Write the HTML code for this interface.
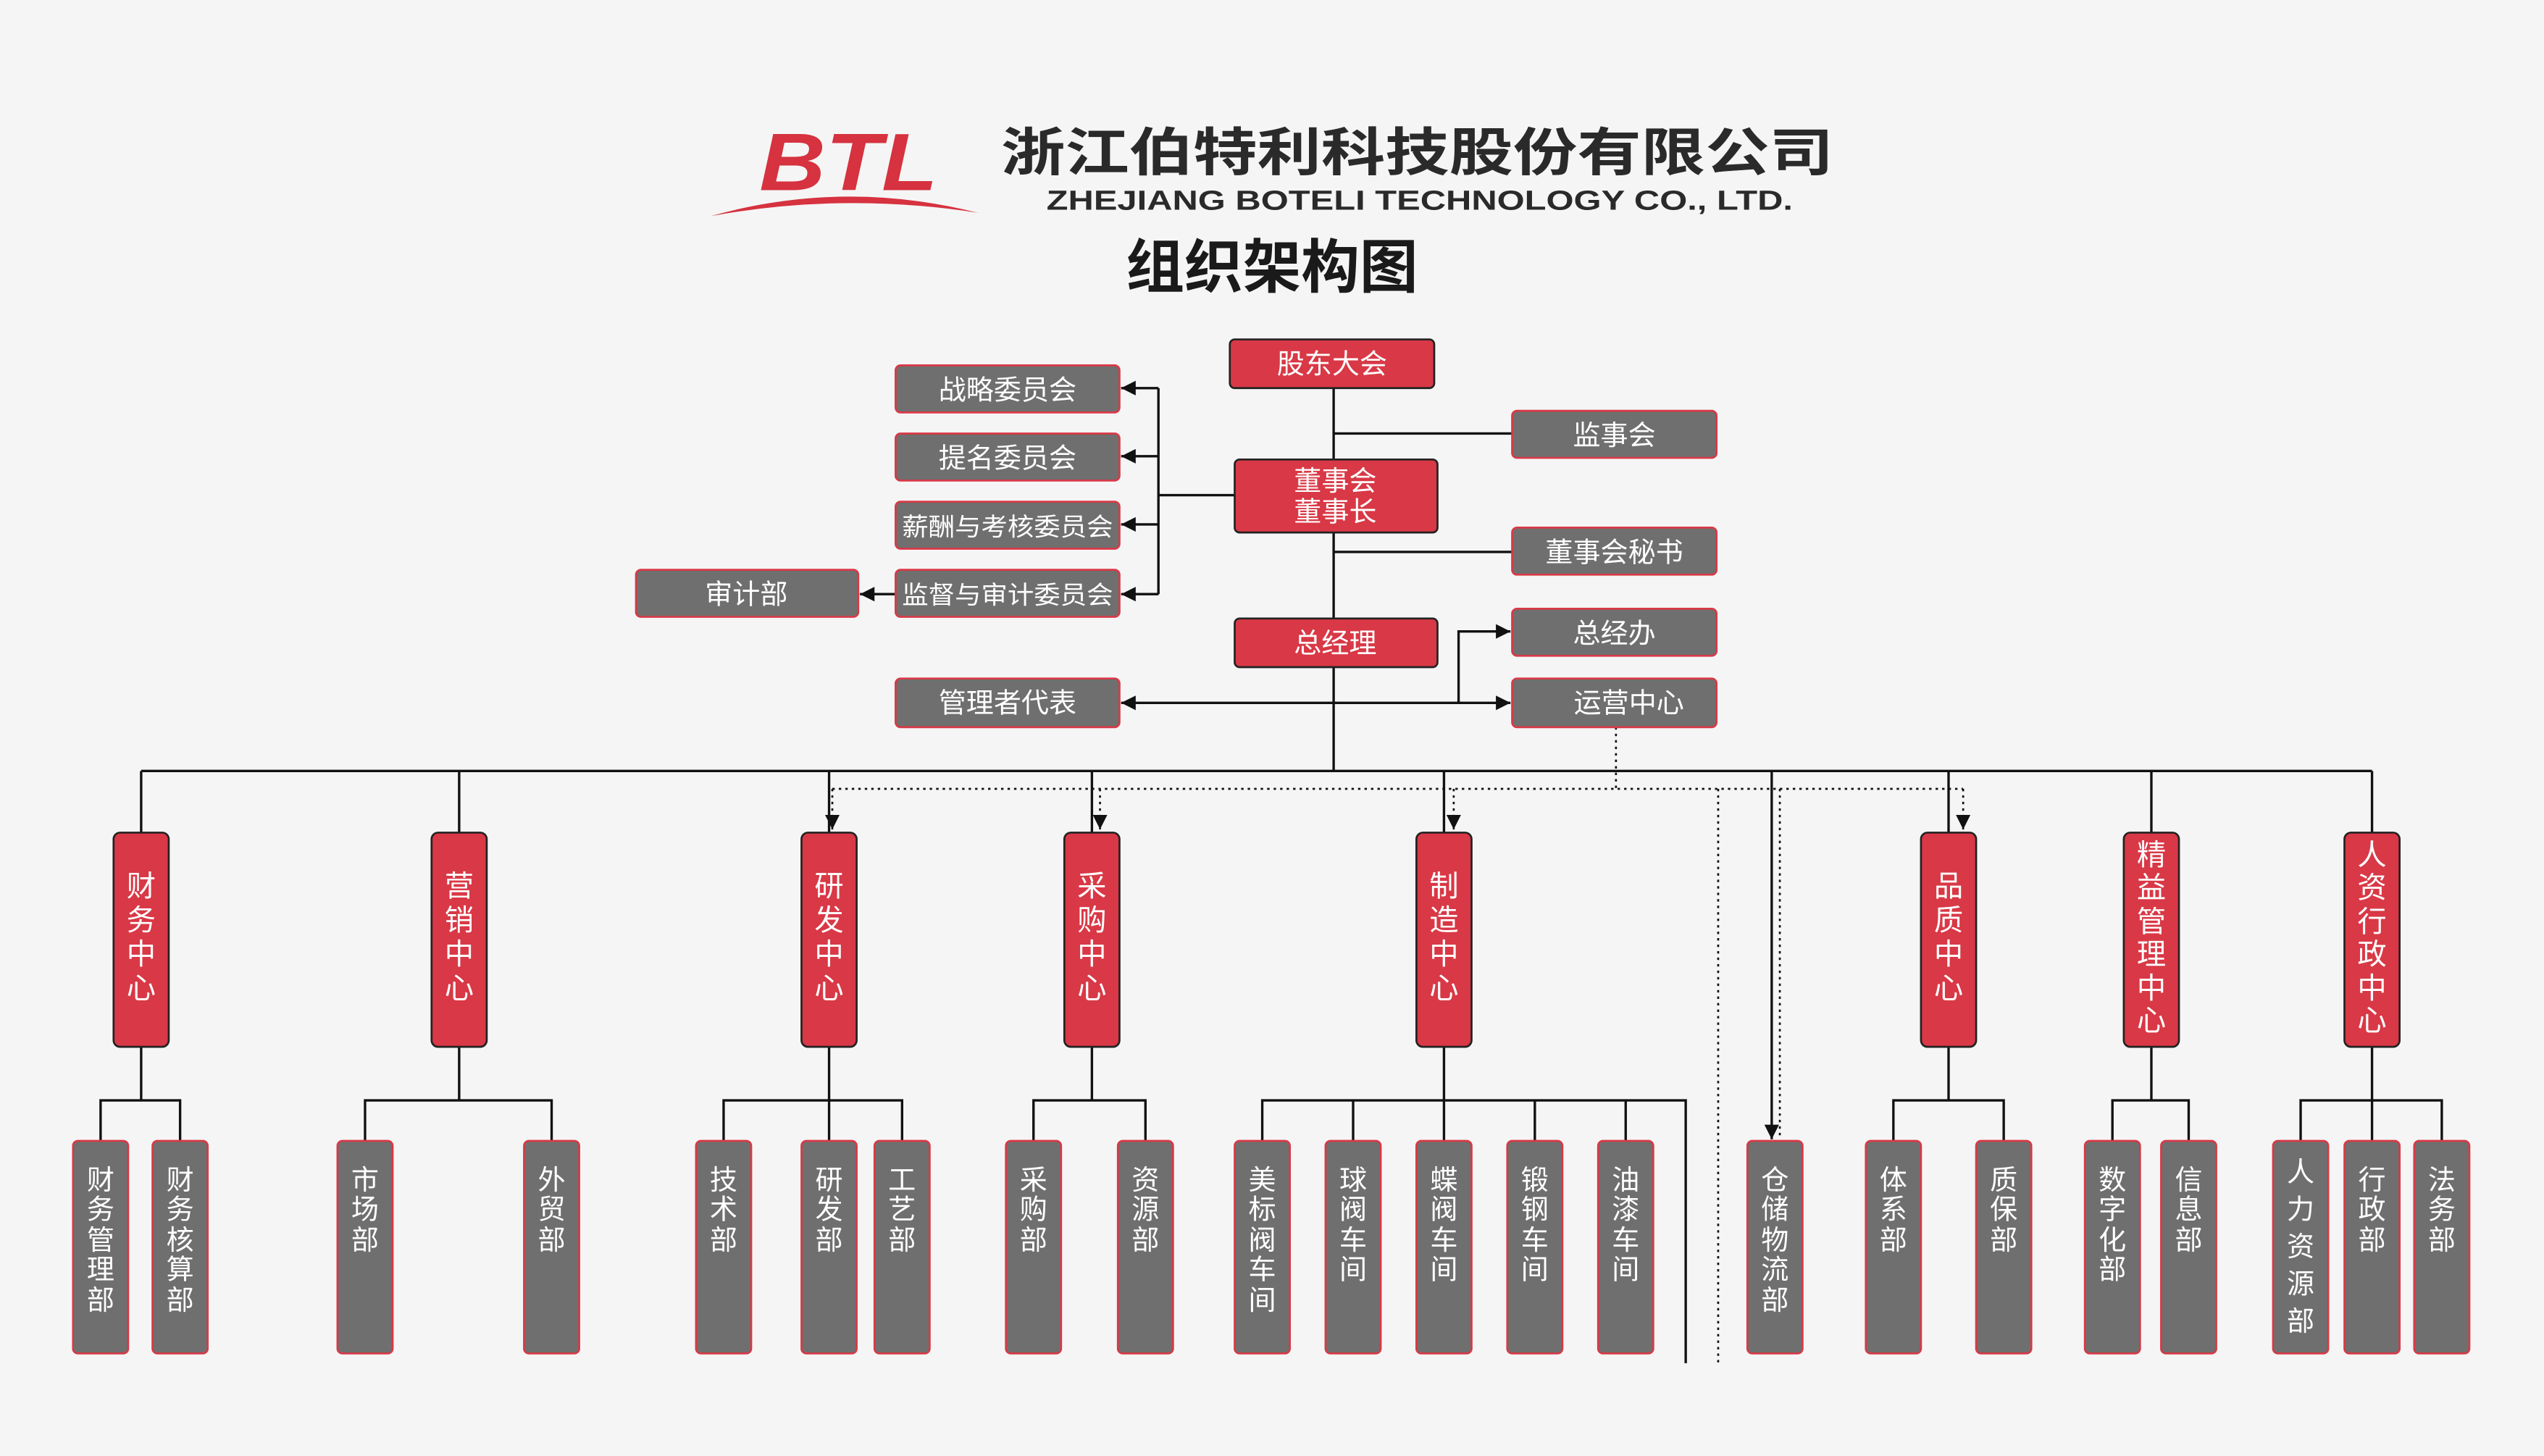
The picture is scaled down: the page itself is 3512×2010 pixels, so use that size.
<!DOCTYPE html>
<html><head><meta charset="utf-8"><style>
html,body{margin:0;padding:0;background:#f5f5f5;}
svg{display:block;}
text{font-family:"Liberation Sans","Noto Sans CJK SC",sans-serif;}
</style></head><body>
<svg width="3512" height="2010" viewBox="0 0 1568 897" xmlns="http://www.w3.org/2000/svg">
<defs>
<marker id="a" viewBox="0 0 10 10" refX="10" refY="5" markerWidth="9" markerHeight="9" markerUnits="userSpaceOnUse" orient="auto"><path d="M0,0 L10,5 L0,10 z" fill="#111"/></marker>
</defs>
<rect x="0" y="0" width="1568" height="897" fill="#f5f5f5"/>
<text x="468" y="117" font-size="50" font-weight="bold" font-style="italic" fill="#d6323f" textLength="110" lengthAdjust="spacingAndGlyphs">BTL</text>
<path d="M438,133 Q520,110 603,131 Q520,118 438,133 Z" fill="#d6323f"/>
<text x="617" y="105" font-size="32" font-weight="bold" fill="#2a2a2a" textLength="513" lengthAdjust="spacingAndGlyphs">浙江伯特利科技股份有限公司</text>
<text x="645" y="129" font-size="17" font-weight="bold" fill="#2a2a2a" textLength="460" lengthAdjust="spacingAndGlyphs">ZHEJIANG BOTELI TECHNOLOGY CO., LTD.</text>
<text x="784" y="177" font-size="36" font-weight="bold" fill="#1a1a1a" text-anchor="middle">组织架构图</text>

<g stroke="#111" stroke-width="1.5" fill="none">
<line x1="822" y1="239" x2="822" y2="475"/>
<line x1="822" y1="267" x2="932" y2="267"/>
<line x1="822" y1="340" x2="932" y2="340"/>
<line x1="761" y1="305" x2="714" y2="305"/>
<line x1="714" y1="239" x2="714" y2="366"/>
<line x1="714" y1="239" x2="691" y2="239" marker-end="url(#a)"/>
<line x1="714" y1="281" x2="691" y2="281" marker-end="url(#a)"/>
<line x1="714" y1="323" x2="691" y2="323" marker-end="url(#a)"/>
<line x1="714" y1="366" x2="691" y2="366" marker-end="url(#a)"/>
<line x1="552" y1="366" x2="530" y2="366" marker-end="url(#a)"/>
<line x1="822" y1="433" x2="691" y2="433" marker-end="url(#a)"/>
<line x1="822" y1="433" x2="931" y2="433" marker-end="url(#a)"/>
<polyline points="899,433 899,389 931,389" marker-end="url(#a)"/>
<line x1="87" y1="475" x2="1462" y2="475"/>
<line x1="87" y1="475" x2="87" y2="513"/>
<line x1="283" y1="475" x2="283" y2="513"/>
<line x1="511" y1="475" x2="511" y2="513"/>
<line x1="673" y1="475" x2="673" y2="513"/>
<line x1="890" y1="475" x2="890" y2="513"/>
<line x1="1201" y1="475" x2="1201" y2="513"/>
<line x1="1326" y1="475" x2="1326" y2="513"/>
<line x1="1462" y1="475" x2="1462" y2="513"/>
<line x1="1092" y1="475" x2="1092" y2="702" marker-end="url(#a)"/>
<line x1="87" y1="645" x2="87" y2="678"/><polyline points="62,703 62,678 111,678 111,703"/>
<line x1="283" y1="645" x2="283" y2="678"/><polyline points="225,703 225,678 340,678 340,703"/>
<line x1="511" y1="645" x2="511" y2="703"/><polyline points="446,703 446,678 556,678 556,703"/>
<line x1="673" y1="645" x2="673" y2="678"/><polyline points="637,703 637,678 706,678 706,703"/>
<line x1="890" y1="645" x2="890" y2="703"/><polyline points="778,703 778,678 1039,678 1039,840"/>
<line x1="834" y1="678" x2="834" y2="703"/><line x1="946" y1="678" x2="946" y2="703"/><line x1="1002" y1="678" x2="1002" y2="703"/>
<line x1="1201" y1="645" x2="1201" y2="678"/><polyline points="1167,703 1167,678 1235,678 1235,703"/>
<line x1="1326" y1="645" x2="1326" y2="678"/><polyline points="1302,703 1302,678 1349,678 1349,703"/>
<line x1="1462" y1="645" x2="1462" y2="703"/><polyline points="1418,703 1418,678 1505,678 1505,703"/>
</g>
<g stroke="#111" stroke-width="1.2" fill="none" stroke-dasharray="1.5,2.5">
<line x1="996" y1="448" x2="996" y2="486"/>
<line x1="513" y1="486" x2="1210" y2="486"/>
<line x1="513" y1="486" x2="513" y2="511" marker-end="url(#a)"/>
<line x1="678" y1="486" x2="678" y2="511" marker-end="url(#a)"/>
<line x1="896" y1="486" x2="896" y2="511" marker-end="url(#a)"/>
<line x1="1210" y1="486" x2="1210" y2="511" marker-end="url(#a)"/>
<line x1="1059" y1="486" x2="1059" y2="840"/>
<line x1="1097" y1="486" x2="1097" y2="700"/>
</g>

<g stroke="#222" stroke-width="1.2">
<rect x="758" y="209" width="126" height="30" rx="3" fill="#d93846"/>
<rect x="761" y="283" width="125" height="45" rx="3" fill="#d93846"/>
<rect x="761" y="381" width="125" height="30" rx="3" fill="#d93846"/>
</g>
<g stroke="#d93846" stroke-width="1.2" fill="#6f6f6f">
<rect x="552" y="225" width="138" height="29" rx="3"/>
<rect x="552" y="267" width="138" height="29" rx="3"/>
<rect x="552" y="309" width="138" height="29" rx="3"/>
<rect x="552" y="351" width="138" height="29" rx="3"/>
<rect x="392" y="351" width="137" height="29" rx="3"/>
<rect x="932" y="253" width="126" height="29" rx="3"/>
<rect x="932" y="325" width="126" height="29" rx="3"/>
<rect x="932" y="375" width="126" height="29" rx="3"/>
<rect x="932" y="418" width="126" height="30" rx="3"/>
<rect x="552" y="418" width="138" height="30" rx="3"/>
</g>
<g fill="#fff" font-size="17" text-anchor="middle">
<text x="821" y="230">股东大会</text>
<text x="823" y="302">董事会</text>
<text x="823" y="321">董事长</text>
<text x="823" y="402">总经理</text>
<text x="621" y="246">战略委员会</text>
<text x="621" y="288">提名委员会</text>
<text x="621" y="330" font-size="15.5" textLength="130" lengthAdjust="spacingAndGlyphs">薪酬与考核委员会</text>
<text x="621" y="372" font-size="15.5" textLength="130" lengthAdjust="spacingAndGlyphs">监督与审计委员会</text>
<text x="460" y="372">审计部</text>
<text x="995" y="274">监事会</text>
<text x="995" y="346">董事会秘书</text>
<text x="995" y="396">总经办</text>
<text x="1004" y="439">运营中心</text>
<text x="621" y="439">管理者代表</text>
</g>

<g stroke="#222" stroke-width="1.2" fill="#d93846">
<rect x="70" y="513" width="34" height="132" rx="4"/>
<rect x="266" y="513" width="34" height="132" rx="4"/>
<rect x="494" y="513" width="34" height="132" rx="4"/>
<rect x="656" y="513" width="34" height="132" rx="4"/>
<rect x="873" y="513" width="34" height="132" rx="4"/>
<rect x="1184" y="513" width="34" height="132" rx="4"/>
<rect x="1309" y="513" width="34" height="132" rx="4"/>
<rect x="1445" y="513" width="34" height="132" rx="4"/>
</g>
<g fill="#fff" font-size="18" text-anchor="middle">
<text x="87" y="552">财</text><text x="87" y="573">务</text><text x="87" y="594">中</text><text x="87" y="615">心</text>
<text x="283" y="552">营</text><text x="283" y="573">销</text><text x="283" y="594">中</text><text x="283" y="615">心</text>
<text x="511" y="552">研</text><text x="511" y="573">发</text><text x="511" y="594">中</text><text x="511" y="615">心</text>
<text x="673" y="552">采</text><text x="673" y="573">购</text><text x="673" y="594">中</text><text x="673" y="615">心</text>
<text x="890" y="552">制</text><text x="890" y="573">造</text><text x="890" y="594">中</text><text x="890" y="615">心</text>
<text x="1201" y="552">品</text><text x="1201" y="573">质</text><text x="1201" y="594">中</text><text x="1201" y="615">心</text>
<text x="1326" y="533">精</text><text x="1326" y="553">益</text><text x="1326" y="574">管</text><text x="1326" y="594">理</text><text x="1326" y="615">中</text><text x="1326" y="635">心</text>
<text x="1462" y="533">人</text><text x="1462" y="553">资</text><text x="1462" y="574">行</text><text x="1462" y="594">政</text><text x="1462" y="615">中</text><text x="1462" y="635">心</text>
</g>

<g stroke="#d93846" stroke-width="1.2" fill="#6f6f6f">
<rect x="45" y="703" width="34" height="131" rx="3"/>
<rect x="94" y="703" width="34" height="131" rx="3"/>
<rect x="208" y="703" width="34" height="131" rx="3"/>
<rect x="323" y="703" width="34" height="131" rx="3"/>
<rect x="429" y="703" width="34" height="131" rx="3"/>
<rect x="494" y="703" width="34" height="131" rx="3"/>
<rect x="539" y="703" width="34" height="131" rx="3"/>
<rect x="620" y="703" width="34" height="131" rx="3"/>
<rect x="689" y="703" width="34" height="131" rx="3"/>
<rect x="761" y="703" width="34" height="131" rx="3"/>
<rect x="817" y="703" width="34" height="131" rx="3"/>
<rect x="873" y="703" width="34" height="131" rx="3"/>
<rect x="929" y="703" width="34" height="131" rx="3"/>
<rect x="985" y="703" width="34" height="131" rx="3"/>
<rect x="1077" y="703" width="34" height="131" rx="3"/>
<rect x="1150" y="703" width="34" height="131" rx="3"/>
<rect x="1218" y="703" width="34" height="131" rx="3"/>
<rect x="1285" y="703" width="34" height="131" rx="3"/>
<rect x="1332" y="703" width="34" height="131" rx="3"/>
<rect x="1401" y="703" width="34" height="131" rx="3"/>
<rect x="1445" y="703" width="34" height="131" rx="3"/>
<rect x="1488" y="703" width="34" height="131" rx="3"/>
</g>
<g fill="#fff" font-size="17" text-anchor="middle">
<text x="62" y="733">财</text><text x="62" y="751">务</text><text x="62" y="770">管</text><text x="62" y="788">理</text><text x="62" y="807">部</text>
<text x="111" y="733">财</text><text x="111" y="751">务</text><text x="111" y="770">核</text><text x="111" y="788">算</text><text x="111" y="807">部</text>
<text x="225" y="733">市</text><text x="225" y="751">场</text><text x="225" y="770">部</text>
<text x="340" y="733">外</text><text x="340" y="751">贸</text><text x="340" y="770">部</text>
<text x="446" y="733">技</text><text x="446" y="751">术</text><text x="446" y="770">部</text>
<text x="511" y="733">研</text><text x="511" y="751">发</text><text x="511" y="770">部</text>
<text x="556" y="733">工</text><text x="556" y="751">艺</text><text x="556" y="770">部</text>
<text x="637" y="733">采</text><text x="637" y="751">购</text><text x="637" y="770">部</text>
<text x="706" y="733">资</text><text x="706" y="751">源</text><text x="706" y="770">部</text>
<text x="778" y="733">美</text><text x="778" y="751">标</text><text x="778" y="770">阀</text><text x="778" y="788">车</text><text x="778" y="807">间</text>
<text x="834" y="733">球</text><text x="834" y="751">阀</text><text x="834" y="770">车</text><text x="834" y="788">间</text>
<text x="890" y="733">蝶</text><text x="890" y="751">阀</text><text x="890" y="770">车</text><text x="890" y="788">间</text>
<text x="946" y="733">锻</text><text x="946" y="751">钢</text><text x="946" y="770">车</text><text x="946" y="788">间</text>
<text x="1002" y="733">油</text><text x="1002" y="751">漆</text><text x="1002" y="770">车</text><text x="1002" y="788">间</text>
<text x="1094" y="733">仓</text><text x="1094" y="751">储</text><text x="1094" y="770">物</text><text x="1094" y="788">流</text><text x="1094" y="807">部</text>
<text x="1167" y="733">体</text><text x="1167" y="751">系</text><text x="1167" y="770">部</text>
<text x="1235" y="733">质</text><text x="1235" y="751">保</text><text x="1235" y="770">部</text>
<text x="1302" y="733">数</text><text x="1302" y="751">字</text><text x="1302" y="770">化</text><text x="1302" y="788">部</text>
<text x="1349" y="733">信</text><text x="1349" y="751">息</text><text x="1349" y="770">部</text>
<text x="1418" y="728">人</text><text x="1418" y="751">力</text><text x="1418" y="774">资</text><text x="1418" y="797">源</text><text x="1418" y="820">部</text>
<text x="1462" y="733">行</text><text x="1462" y="751">政</text><text x="1462" y="770">部</text>
<text x="1505" y="733">法</text><text x="1505" y="751">务</text><text x="1505" y="770">部</text>
</g>
</svg>
</body></html>
